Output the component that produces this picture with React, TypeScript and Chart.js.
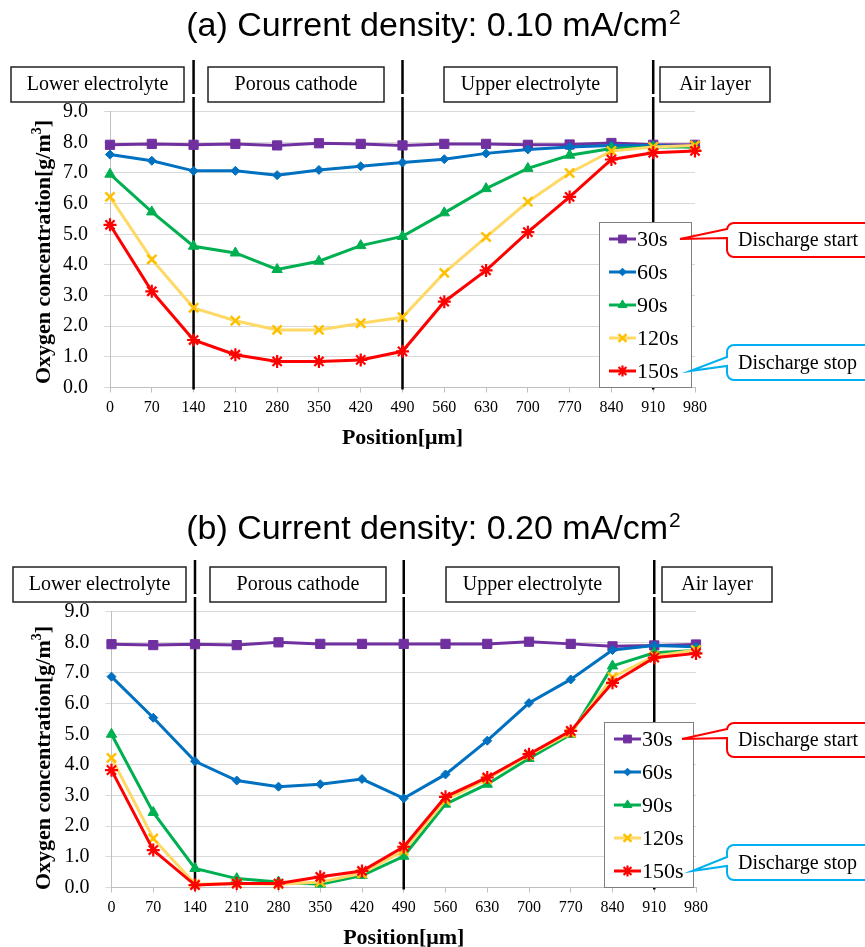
import React, { useEffect, useRef } from "react";
import { Chart, registerables } from "chart.js";
import { drawPoint } from "chart.js/helpers";

Chart.register(...registerables);

// ---------- data ----------
const positions = ["0", "70", "140", "210", "280", "350", "420", "490", "560", "630", "700", "770", "840", "910", "980"];
const seriesNames = ["30s", "60s", "90s", "120s", "150s"];
const regionLabels = ["Lower electrolyte", "Porous cathode", "Upper electrolyte", "Air layer"];
const boundaryPositions = ["140", "490", "910"];
const yMin = 0;
const yMax = 9;
const yStep = 1;

// (a) 0.10 mA/cm2
const a30s = [7.92, 7.95, 7.92, 7.95, 7.9, 7.97, 7.95, 7.9, 7.95, 7.95, 7.92, 7.93, 7.98, 7.92, 7.92];
const a60s = [7.6, 7.4, 7.07, 7.07, 6.93, 7.1, 7.22, 7.34, 7.45, 7.64, 7.77, 7.85, 7.9, 7.9, 7.85];
const a90s = [6.96, 5.73, 4.61, 4.39, 3.85, 4.12, 4.63, 4.93, 5.7, 6.49, 7.15, 7.58, 7.8, 7.85, 7.85];
const a120s = [6.22, 4.18, 2.6, 2.18, 1.88, 1.88, 2.1, 2.29, 3.74, 4.91, 6.06, 7.0, 7.72, 7.85, 7.9];
const a150s = [5.31, 3.14, 1.55, 1.07, 0.85, 0.85, 0.9, 1.18, 2.8, 3.82, 5.07, 6.22, 7.44, 7.66, 7.72];

// (b) 0.20 mA/cm2
const b30s = [7.94, 7.91, 7.94, 7.91, 8.0, 7.95, 7.95, 7.95, 7.95, 7.95, 8.02, 7.95, 7.87, 7.9, 7.93];
const b60s = [6.88, 5.54, 4.12, 3.49, 3.29, 3.37, 3.54, 2.91, 3.69, 4.79, 6.02, 6.79, 7.75, 7.9, 7.86];
const b90s = [5.0, 2.45, 0.62, 0.29, 0.18, 0.11, 0.39, 1.02, 2.72, 3.37, 4.21, 5.0, 7.23, 7.66, 7.73];
const b120s = [4.23, 1.6, 0.11, 0.13, 0.11, 0.18, 0.46, 1.2, 2.85, 3.54, 4.32, 5.05, 6.86, 7.55, 7.75];
const b150s = [3.83, 1.22, 0.08, 0.13, 0.13, 0.35, 0.54, 1.33, 2.96, 3.59, 4.35, 5.11, 6.68, 7.5, 7.64];

// ---------- styles ----------
const SERIF = "'Liberation Serif', 'Times New Roman', serif";
const SANS = "'Liberation Sans', Arial, sans-serif";

const seriesStyles = [
  { line: "#7030A0", point: "#7030A0", style: "rect", radius: 6.5, pbw: 1 },
  { line: "#0070C0", point: "#0070C0", style: "rectRot", radius: 4.5, pbw: 1 },
  { line: "#00B050", point: "#00B050", style: "triangle", radius: 6, pbw: 1 },
  { line: "#FFD966", point: "#FFC000", style: "crossRot", radius: 6.5, pbw: 2.5 },
  { line: "#FF0000", point: "#FF0000", style: "star", radius: 6.5, pbw: 2.2 },
];

type PanelCfg = {
  titleMain: string;
  titleSup: string;
  titleBaseline: number;
  height: number;
  plotLeft: number;
  plotRight: number;
  boxDx: number;
  legendLeft: number;
  legendRight: number;
  yTitleCenter: number;
  data: number[][];
};

const panels: PanelCfg[] = [
  {
    titleMain: "(a) Current density: 0.10 mA/cm",
    titleSup: "2",
    titleBaseline: 36,
    height: 500,
    plotLeft: 110,
    plotRight: 695,
    boxDx: 0,
    legendLeft: 599,
    legendRight: 692,
    yTitleCenter: 252,
    data: [a30s, a60s, a90s, a120s, a150s],
  },
  {
    titleMain: "(b) Current density: 0.20 mA/cm",
    titleSup: "2",
    titleBaseline: 39,
    height: 447,
    plotLeft: 111.5,
    plotRight: 696,
    boxDx: 2,
    legendLeft: 604,
    legendRight: 694,
    yTitleCenter: 258,
    data: [b30s, b60s, b90s, b120s, b150s],
  },
];

const PLOT_TOP = 111.7;
const PLOT_BOTTOM = 387.5;
const X_AXIS_H = 55;
const regionBoxes = [
  [11, 184],
  [208, 384],
  [444, 617],
  [660, 770],
];

function calloutPath(ctx: CanvasRenderingContext2D, left: number, top: number, bottom: number, right: number, r: number, baseTop: number, baseBot: number, tipX: number, tipY: number) {
  ctx.beginPath();
  ctx.moveTo(left, baseTop);
  ctx.lineTo(left, top + r);
  ctx.arcTo(left, top, left + r, top, r);
  ctx.lineTo(right, top);
  ctx.lineTo(right, bottom);
  ctx.lineTo(left + r, bottom);
  ctx.arcTo(left, bottom, left, bottom - r, r);
  ctx.lineTo(left, baseBot);
  ctx.lineTo(tipX, tipY);
  ctx.closePath();
}

function makePlugin(cfg: PanelCfg) {
  return {
    id: "decor",
    beforeDatasetsDraw(chart: any) {
      const ctx = chart.ctx as CanvasRenderingContext2D;
      const xs = chart.scales.x;
      const bottom = chart.chartArea.bottom;
      ctx.save();
      ctx.strokeStyle = "#000";
      ctx.lineWidth = 2.5;
      boundaryPositions.forEach((p) => {
        const x = xs.getPixelForValue(positions.indexOf(p));
        ctx.beginPath();
        ctx.moveTo(x, 60);
        ctx.lineTo(x, 94);
        ctx.moveTo(x, 97);
        ctx.lineTo(x, bottom + 2);
        ctx.stroke();
      });
      ctx.restore();
    },
    afterDraw(chart: any) {
      const ctx = chart.ctx as CanvasRenderingContext2D;
      const ca = chart.chartArea;
      ctx.save();

      // Title
      ctx.fillStyle = "#000";
      ctx.textBaseline = "alphabetic";
      ctx.font = `34px ${SANS}`;
      const w1 = ctx.measureText(cfg.titleMain).width;
      ctx.font = `21px ${SANS}`;
      const w2 = ctx.measureText(cfg.titleSup).width;
      const tx = 433 - (w1 + w2) / 2;
      ctx.font = `34px ${SANS}`;
      ctx.textAlign = "left";
      ctx.fillText(cfg.titleMain, tx, cfg.titleBaseline);
      ctx.font = `21px ${SANS}`;
      ctx.fillText(cfg.titleSup, tx + w1 + 1, cfg.titleBaseline - 12);

      // Region boxes
      ctx.font = `20px ${SERIF}`;
      ctx.textAlign = "center";
      ctx.textBaseline = "middle";
      regionBoxes.forEach((b, i) => {
        const l = b[0] + cfg.boxDx;
        const r = b[1] + cfg.boxDx;
        ctx.fillStyle = "#fff";
        ctx.fillRect(l, 67, r - l, 35);
        ctx.strokeStyle = "#222";
        ctx.lineWidth = 1.5;
        ctx.strokeRect(l, 67, r - l, 35);
        ctx.fillStyle = "#000";
        ctx.fillText(regionLabels[i], (l + r) / 2, 85);
      });

      // Axis titles
      ctx.font = `bold 22px ${SERIF}`;
      ctx.textAlign = "center";
      ctx.textBaseline = "middle";
      ctx.fillText("Position[\u03bcm]", (ca.left + ca.right) / 2, 438);

      ctx.save();
      ctx.translate(43, cfg.yTitleCenter);
      ctx.rotate(-Math.PI / 2);
      const yMain = "Oxygen concentration[g/m";
      const ySup = "3";
      const yEnd = "]";
      ctx.font = `bold 22px ${SERIF}`;
      const m1 = ctx.measureText(yMain).width;
      const m3 = ctx.measureText(yEnd).width;
      ctx.font = `bold 14px ${SERIF}`;
      const m2 = ctx.measureText(ySup).width;
      const total = m1 + m2 + m3;
      let cx = -total / 2;
      ctx.textAlign = "left";
      ctx.textBaseline = "alphabetic";
      ctx.font = `bold 22px ${SERIF}`;
      ctx.fillText(yMain, cx, 7);
      cx += m1;
      ctx.font = `bold 14px ${SERIF}`;
      ctx.fillText(ySup, cx, -2);
      cx += m2;
      ctx.font = `bold 22px ${SERIF}`;
      ctx.fillText(yEnd, cx, 7);
      ctx.restore();

      // Legend
      const lL = cfg.legendLeft;
      const lR = cfg.legendRight;
      const lT = 222;
      const lB = 388;
      ctx.fillStyle = "#fff";
      ctx.fillRect(lL, lT, lR - lL, lB - lT);
      ctx.strokeStyle = "#7f7f7f";
      ctx.lineWidth = 1;
      ctx.strokeRect(lL + 0.5, lT + 0.5, lR - lL - 1, lB - lT - 1);
      const itemYs: number[] = [];
      seriesNames.forEach((name, i) => {
        const y = lT + 17 + i * 33;
        itemYs.push(y);
        const st = seriesStyles[i];
        const x0 = lL + 10;
        const x1 = lL + 37;
        ctx.strokeStyle = st.line;
        ctx.lineWidth = 3;
        ctx.beginPath();
        ctx.moveTo(x0, y);
        ctx.lineTo(x1, y);
        ctx.stroke();
        ctx.fillStyle = st.point;
        ctx.strokeStyle = st.point;
        ctx.lineWidth = st.pbw;
        drawPoint(ctx, { pointStyle: st.style, radius: st.radius * 0.85, rotation: 0, borderWidth: st.pbw } as any, (x0 + x1) / 2, y);
        ctx.fillStyle = "#000";
        ctx.font = `22px ${SERIF}`;
        ctx.textAlign = "left";
        ctx.textBaseline = "middle";
        ctx.fillText(name, x1 + 1, y + 1);
      });

      // Callouts
      const cLeft = 727;
      const cRight = 900;
      const items = [
        { text: "Discharge start", color: "#FF0000", top: 223, bottom: 257, bT: 229, bB: 238, tipX: lR - 12, tipY: itemYs[0] },
        { text: "Discharge stop", color: "#00B0F0", top: 345, bottom: 380, bT: 357, bB: 366, tipX: lR - 2, tipY: itemYs[4] },
      ];
      items.forEach((c) => {
        calloutPath(ctx, cLeft, c.top, c.bottom, cRight, 7, c.bT, c.bB, c.tipX, c.tipY);
        ctx.fillStyle = "#fff";
        ctx.fill();
        ctx.strokeStyle = c.color;
        ctx.lineWidth = 2;
        ctx.stroke();
        ctx.fillStyle = "#000";
        ctx.font = `20px ${SERIF}`;
        ctx.textAlign = "left";
        ctx.textBaseline = "middle";
        ctx.fillText(c.text, 738, (c.top + c.bottom) / 2 + 1);
      });

      ctx.restore();
    },
  };
}

function Panel({ cfg }: { cfg: PanelCfg }) {
  const ref = useRef<HTMLCanvasElement | null>(null);
  useEffect(() => {
    if (!ref.current) return;
    const datasets = seriesNames.map((name, i) => {
      const st = seriesStyles[i];
      return {
        label: name,
        data: cfg.data[i],
        borderColor: st.line,
        backgroundColor: st.point,
        borderWidth: 3,
        pointStyle: st.style,
        pointRadius: st.radius,
        pointBackgroundColor: st.point,
        pointBorderColor: st.point,
        pointBorderWidth: st.pbw,
        tension: 0,
        clip: false,
        order: seriesNames.length - 1 - i,
      };
    });
    const chart = new Chart(ref.current, {
      type: "line",
      data: { labels: positions, datasets: datasets as any },
      options: {
        animation: false,
        responsive: false,
        devicePixelRatio: 1,
        layout: {
          padding: {
            top: PLOT_TOP,
            left: 0,
            right: 865 - cfg.plotRight,
            bottom: cfg.height - PLOT_BOTTOM - X_AXIS_H,
          },
        },
        plugins: {
          legend: { display: false },
          title: { display: false },
          tooltip: { enabled: false },
        },
        scales: {
          x: {
            type: "category",
            offset: false,
            grid: { display: true, drawOnChartArea: false, drawTicks: true, tickLength: 5, color: "#bfbfbf" },
            border: { display: true, color: "#bfbfbf", width: 1 },
            ticks: {
              autoSkip: false,
              maxRotation: 0,
              minRotation: 0,
              padding: 6,
              color: "#000",
              font: { family: SERIF, size: 16 },
            },
            afterFit: (s: any) => {
              s.height = X_AXIS_H;
            },
          },
          y: {
            min: yMin,
            max: yMax,
            grid: { color: "#d9d9d9", lineWidth: 1, tickLength: 6, drawTicks: true },
            border: { display: true, color: "#bfbfbf", width: 1 },
            ticks: {
              stepSize: yStep,
              padding: 16,
              color: "#000",
              font: { family: SERIF, size: 20 },
              callback: (v: any) => Number(v).toFixed(1),
            },
            afterFit: (s: any) => {
              s.width = cfg.plotLeft;
            },
          },
        },
      },
      plugins: [makePlugin(cfg) as any],
    });
    return () => chart.destroy();
  }, [cfg]);
  return <canvas ref={ref} width={865} height={cfg.height} style={{ display: "block", width: 865, height: cfg.height }} />;
}

export default function App() {
  return (
    <div style={{ position: "absolute", left: 0, top: 0, width: 865, height: 947, background: "#fff", overflow: "hidden" }}>
      <div style={{ position: "absolute", left: 0, top: 0 }}>
        <Panel cfg={panels[0]} />
      </div>
      <div style={{ position: "absolute", left: 0, top: 500 }}>
        <Panel cfg={panels[1]} />
      </div>
    </div>
  );
}
